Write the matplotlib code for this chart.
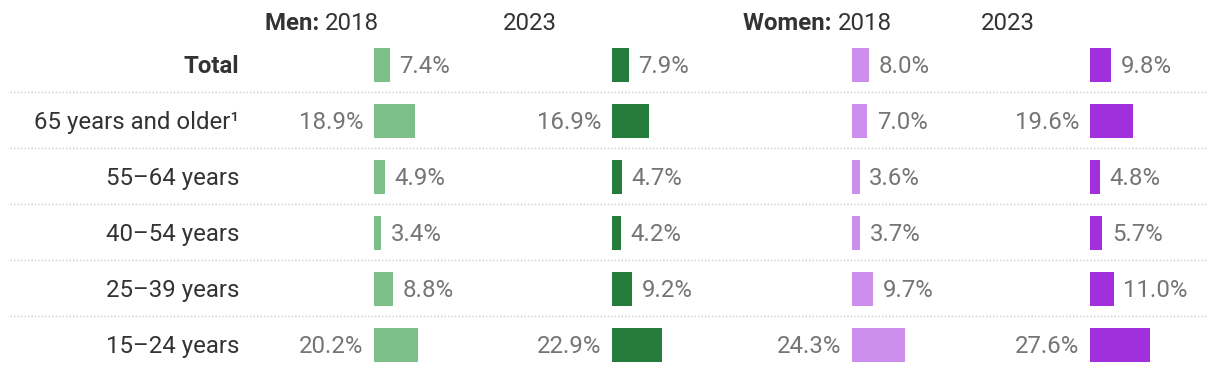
import numpy as np
import matplotlib.pyplot as plt

plt.rcParams['font.family'] = ['Roboto', 'DejaVu Sans']

# data
groups = ['Total', '65 years and older\u00b9', '55\u201364 years', '40\u201354 years',
          '25\u201339 years', '15\u201324 years']
men_2018 = [7.4, 18.9, 4.9, 3.4, 8.8, 20.2]
men_2023 = [7.9, 16.9, 4.7, 4.2, 9.2, 22.9]
women_2018 = [8.0, 7.0, 3.6, 3.7, 9.7, 24.3]
women_2023 = [9.8, 19.6, 4.8, 5.7, 11.0, 27.6]

series = [men_2018, men_2023, women_2018, women_2023]
headers = [('Men:', '2018'), (None, '2023'), ('Women:', '2018'), (None, '2023')]
colors = ['#7cbf89', '#267c3b', '#cc8eeb', '#a22fdc']

W, H = 1220, 372
FS = 17.3
px_per_pct = 2.18
col_x = [374, 612, 852, 1090]   # bar starts, pixels
col_w = 200
row0, row_step = 65, 56
ylim = ((H - row0) / row_step, -row0 / row_step)
dy = 0.025  # nudge text down a touch

fig = plt.figure(figsize=(W / 100, H / 100), dpi=100)

# background axes for row labels and separators
bg = fig.add_axes([0, 0, 1, 1])
bg.set_xlim(0, W)
bg.set_ylim(*ylim)
bg.axis('off')
y = np.arange(len(groups))
for i, g in enumerate(groups):
    bg.text(239, i + dy, g, ha='right', va='center', fontsize=FS, color='#333333',
            fontweight='bold' if i == 0 else 'normal')
for i in range(1, len(groups)):
    bg.plot([10, 1207], [i - 0.52, i - 0.52], color='#cccccc', lw=1, ls=(0, (1, 1.5)))

for k, (vals, col, x0) in enumerate(zip(series, colors, col_x)):
    ax = fig.add_axes([x0 / W, 0, col_w / W, 1])
    ax.set_xlim(0, col_w / px_per_pct)
    ax.set_ylim(*ylim)
    ax.axis('off')
    ax.barh(y, vals, height=34 / row_step, color=col)
    for i, v in enumerate(vals):
        if v > 15:
            ax.text(-5.0, i + dy, f'{v:.1f}%', ha='right', va='center',
                    fontsize=FS, color='#757575', clip_on=False)
        else:
            ax.text(v + 4.3, i + dy, f'{v:.1f}%', ha='left', va='center',
                    fontsize=FS, color='#757575', clip_on=False)
    bold, year = headers[k]
    hx = (x0 - 109) / W
    hy = 1 - 24 / H
    if bold:
        t = fig.text(hx, hy, bold + ' ', ha='left', va='center', fontsize=FS,
                     fontweight='bold', color='#333333')
        fig.canvas.draw()
        bb = t.get_window_extent()
        fig.text(bb.x1 / W, hy, year, ha='left', va='center', fontsize=FS,
                 color='#333333')
    else:
        fig.text(hx, hy, year, ha='left', va='center', fontsize=FS,
                 color='#333333')

fig.savefig('out.png', dpi=100, facecolor='white')
